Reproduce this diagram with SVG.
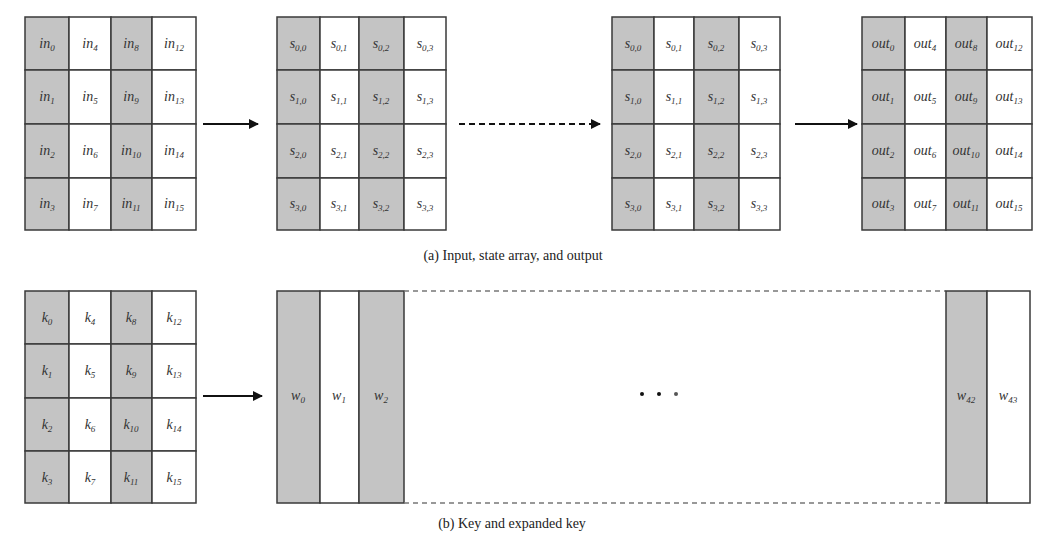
<svg xmlns="http://www.w3.org/2000/svg" width="1048" height="537" viewBox="0 0 1048 537">
<defs>
<style>
.g{fill:#c4c4c4;stroke:#3a3a3a;stroke-width:1.5}
.w{fill:#ffffff;stroke:#3a3a3a;stroke-width:1.5}
.t{font-family:"Liberation Serif","Times New Roman",serif;font-style:italic;font-size:14px;fill:#333;text-anchor:middle}
.s{font-size:9px}
.cap{font-family:"Liberation Serif","Times New Roman",serif;font-size:14px;fill:#222;text-anchor:middle}
.ln{stroke:#111;stroke-width:2;fill:none}
.dl{stroke:#777;stroke-width:1.5;stroke-dasharray:5,4;fill:none}
</style>
<marker id="ah" viewBox="0 0 10 10" refX="9" refY="5" markerWidth="5" markerHeight="5" orient="auto" markerUnits="strokeWidth">
<path d="M0,0 L10,5 L0,10 z" fill="#111"/>
</marker>
</defs>
<rect width="1048" height="537" fill="#fff"/>

<g id="input">
<rect class="g" x="25" y="17" width="44" height="53"/><rect class="w" x="69" y="17" width="42" height="53"/><rect class="g" x="111" y="17" width="41" height="53"/><rect class="w" x="152" y="17" width="44" height="53"/>
<rect class="g" x="25" y="70" width="44" height="54"/><rect class="w" x="69" y="70" width="42" height="54"/><rect class="g" x="111" y="70" width="41" height="54"/><rect class="w" x="152" y="70" width="44" height="54"/>
<rect class="g" x="25" y="124" width="44" height="54"/><rect class="w" x="69" y="124" width="42" height="54"/><rect class="g" x="111" y="124" width="41" height="54"/><rect class="w" x="152" y="124" width="44" height="54"/>
<rect class="g" x="25" y="178" width="44" height="52"/><rect class="w" x="69" y="178" width="42" height="52"/><rect class="g" x="111" y="178" width="41" height="52"/><rect class="w" x="152" y="178" width="44" height="52"/>
<text class="t" x="47" y="48">in<tspan class="s" dy="3">0</tspan></text>
<text class="t" x="90" y="48">in<tspan class="s" dy="3">4</tspan></text>
<text class="t" x="131" y="48">in<tspan class="s" dy="3">8</tspan></text>
<text class="t" x="174" y="48">in<tspan class="s" dy="3">12</tspan></text>
<text class="t" x="47" y="101">in<tspan class="s" dy="3">1</tspan></text>
<text class="t" x="90" y="101">in<tspan class="s" dy="3">5</tspan></text>
<text class="t" x="131" y="101">in<tspan class="s" dy="3">9</tspan></text>
<text class="t" x="174" y="101">in<tspan class="s" dy="3">13</tspan></text>
<text class="t" x="47" y="155">in<tspan class="s" dy="3">2</tspan></text>
<text class="t" x="90" y="155">in<tspan class="s" dy="3">6</tspan></text>
<text class="t" x="131" y="155">in<tspan class="s" dy="3">10</tspan></text>
<text class="t" x="174" y="155">in<tspan class="s" dy="3">14</tspan></text>
<text class="t" x="47" y="208">in<tspan class="s" dy="3">3</tspan></text>
<text class="t" x="90" y="208">in<tspan class="s" dy="3">7</tspan></text>
<text class="t" x="131" y="208">in<tspan class="s" dy="3">11</tspan></text>
<text class="t" x="174" y="208">in<tspan class="s" dy="3">15</tspan></text>
</g>

<g id="state1">
<rect class="g" x="277" y="17" width="43" height="53"/><rect class="w" x="320" y="17" width="39" height="53"/><rect class="g" x="359" y="17" width="45" height="53"/><rect class="w" x="404" y="17" width="42" height="53"/>
<rect class="g" x="277" y="70" width="43" height="54"/><rect class="w" x="320" y="70" width="39" height="54"/><rect class="g" x="359" y="70" width="45" height="54"/><rect class="w" x="404" y="70" width="42" height="54"/>
<rect class="g" x="277" y="124" width="43" height="54"/><rect class="w" x="320" y="124" width="39" height="54"/><rect class="g" x="359" y="124" width="45" height="54"/><rect class="w" x="404" y="124" width="42" height="54"/>
<rect class="g" x="277" y="178" width="43" height="52"/><rect class="w" x="320" y="178" width="39" height="52"/><rect class="g" x="359" y="178" width="45" height="52"/><rect class="w" x="404" y="178" width="42" height="52"/>
<text class="t" x="298" y="48">s<tspan class="s" dy="3">0,0</tspan></text>
<text class="t" x="339" y="48">s<tspan class="s" dy="3">0,1</tspan></text>
<text class="t" x="381" y="48">s<tspan class="s" dy="3">0,2</tspan></text>
<text class="t" x="425" y="48">s<tspan class="s" dy="3">0,3</tspan></text>
<text class="t" x="298" y="101">s<tspan class="s" dy="3">1,0</tspan></text>
<text class="t" x="339" y="101">s<tspan class="s" dy="3">1,1</tspan></text>
<text class="t" x="381" y="101">s<tspan class="s" dy="3">1,2</tspan></text>
<text class="t" x="425" y="101">s<tspan class="s" dy="3">1,3</tspan></text>
<text class="t" x="298" y="155">s<tspan class="s" dy="3">2,0</tspan></text>
<text class="t" x="339" y="155">s<tspan class="s" dy="3">2,1</tspan></text>
<text class="t" x="381" y="155">s<tspan class="s" dy="3">2,2</tspan></text>
<text class="t" x="425" y="155">s<tspan class="s" dy="3">2,3</tspan></text>
<text class="t" x="298" y="208">s<tspan class="s" dy="3">3,0</tspan></text>
<text class="t" x="339" y="208">s<tspan class="s" dy="3">3,1</tspan></text>
<text class="t" x="381" y="208">s<tspan class="s" dy="3">3,2</tspan></text>
<text class="t" x="425" y="208">s<tspan class="s" dy="3">3,3</tspan></text>
</g>

<g id="state2">
<rect class="g" x="612" y="17" width="42" height="53"/><rect class="w" x="654" y="17" width="40" height="53"/><rect class="g" x="694" y="17" width="45" height="53"/><rect class="w" x="739" y="17" width="41" height="53"/>
<rect class="g" x="612" y="70" width="42" height="54"/><rect class="w" x="654" y="70" width="40" height="54"/><rect class="g" x="694" y="70" width="45" height="54"/><rect class="w" x="739" y="70" width="41" height="54"/>
<rect class="g" x="612" y="124" width="42" height="54"/><rect class="w" x="654" y="124" width="40" height="54"/><rect class="g" x="694" y="124" width="45" height="54"/><rect class="w" x="739" y="124" width="41" height="54"/>
<rect class="g" x="612" y="178" width="42" height="52"/><rect class="w" x="654" y="178" width="40" height="52"/><rect class="g" x="694" y="178" width="45" height="52"/><rect class="w" x="739" y="178" width="41" height="52"/>
<text class="t" x="633" y="48">s<tspan class="s" dy="3">0,0</tspan></text>
<text class="t" x="674" y="48">s<tspan class="s" dy="3">0,1</tspan></text>
<text class="t" x="716" y="48">s<tspan class="s" dy="3">0,2</tspan></text>
<text class="t" x="759" y="48">s<tspan class="s" dy="3">0,3</tspan></text>
<text class="t" x="633" y="101">s<tspan class="s" dy="3">1,0</tspan></text>
<text class="t" x="674" y="101">s<tspan class="s" dy="3">1,1</tspan></text>
<text class="t" x="716" y="101">s<tspan class="s" dy="3">1,2</tspan></text>
<text class="t" x="759" y="101">s<tspan class="s" dy="3">1,3</tspan></text>
<text class="t" x="633" y="155">s<tspan class="s" dy="3">2,0</tspan></text>
<text class="t" x="674" y="155">s<tspan class="s" dy="3">2,1</tspan></text>
<text class="t" x="716" y="155">s<tspan class="s" dy="3">2,2</tspan></text>
<text class="t" x="759" y="155">s<tspan class="s" dy="3">2,3</tspan></text>
<text class="t" x="633" y="208">s<tspan class="s" dy="3">3,0</tspan></text>
<text class="t" x="674" y="208">s<tspan class="s" dy="3">3,1</tspan></text>
<text class="t" x="716" y="208">s<tspan class="s" dy="3">3,2</tspan></text>
<text class="t" x="759" y="208">s<tspan class="s" dy="3">3,3</tspan></text>
</g>

<g id="output">
<rect class="g" x="862" y="17" width="43" height="53"/><rect class="w" x="905" y="17" width="41" height="53"/><rect class="g" x="946" y="17" width="41" height="53"/><rect class="w" x="987" y="17" width="45" height="53"/>
<rect class="g" x="862" y="70" width="43" height="54"/><rect class="w" x="905" y="70" width="41" height="54"/><rect class="g" x="946" y="70" width="41" height="54"/><rect class="w" x="987" y="70" width="45" height="54"/>
<rect class="g" x="862" y="124" width="43" height="54"/><rect class="w" x="905" y="124" width="41" height="54"/><rect class="g" x="946" y="124" width="41" height="54"/><rect class="w" x="987" y="124" width="45" height="54"/>
<rect class="g" x="862" y="178" width="43" height="52"/><rect class="w" x="905" y="178" width="41" height="52"/><rect class="g" x="946" y="178" width="41" height="52"/><rect class="w" x="987" y="178" width="45" height="52"/>
<text class="t" x="883" y="48">out<tspan class="s" dy="3">0</tspan></text>
<text class="t" x="925" y="48">out<tspan class="s" dy="3">4</tspan></text>
<text class="t" x="966" y="48">out<tspan class="s" dy="3">8</tspan></text>
<text class="t" x="1009" y="48">out<tspan class="s" dy="3">12</tspan></text>
<text class="t" x="883" y="101">out<tspan class="s" dy="3">1</tspan></text>
<text class="t" x="925" y="101">out<tspan class="s" dy="3">5</tspan></text>
<text class="t" x="966" y="101">out<tspan class="s" dy="3">9</tspan></text>
<text class="t" x="1009" y="101">out<tspan class="s" dy="3">13</tspan></text>
<text class="t" x="883" y="155">out<tspan class="s" dy="3">2</tspan></text>
<text class="t" x="925" y="155">out<tspan class="s" dy="3">6</tspan></text>
<text class="t" x="966" y="155">out<tspan class="s" dy="3">10</tspan></text>
<text class="t" x="1009" y="155">out<tspan class="s" dy="3">14</tspan></text>
<text class="t" x="883" y="208">out<tspan class="s" dy="3">3</tspan></text>
<text class="t" x="925" y="208">out<tspan class="s" dy="3">7</tspan></text>
<text class="t" x="966" y="208">out<tspan class="s" dy="3">11</tspan></text>
<text class="t" x="1009" y="208">out<tspan class="s" dy="3">15</tspan></text>
</g>

<g id="key">
<rect class="g" x="25" y="291" width="44" height="53"/><rect class="w" x="69" y="291" width="42" height="53"/><rect class="g" x="111" y="291" width="41" height="53"/><rect class="w" x="152" y="291" width="44" height="53"/>
<rect class="g" x="25" y="344" width="44" height="54"/><rect class="w" x="69" y="344" width="42" height="54"/><rect class="g" x="111" y="344" width="41" height="54"/><rect class="w" x="152" y="344" width="44" height="54"/>
<rect class="g" x="25" y="398" width="44" height="53"/><rect class="w" x="69" y="398" width="42" height="53"/><rect class="g" x="111" y="398" width="41" height="53"/><rect class="w" x="152" y="398" width="44" height="53"/>
<rect class="g" x="25" y="451" width="44" height="52"/><rect class="w" x="69" y="451" width="42" height="52"/><rect class="g" x="111" y="451" width="41" height="52"/><rect class="w" x="152" y="451" width="44" height="52"/>
<text class="t" x="47" y="322">k<tspan class="s" dy="3">0</tspan></text>
<text class="t" x="90" y="322">k<tspan class="s" dy="3">4</tspan></text>
<text class="t" x="131" y="322">k<tspan class="s" dy="3">8</tspan></text>
<text class="t" x="174" y="322">k<tspan class="s" dy="3">12</tspan></text>
<text class="t" x="47" y="375">k<tspan class="s" dy="3">1</tspan></text>
<text class="t" x="90" y="375">k<tspan class="s" dy="3">5</tspan></text>
<text class="t" x="131" y="375">k<tspan class="s" dy="3">9</tspan></text>
<text class="t" x="174" y="375">k<tspan class="s" dy="3">13</tspan></text>
<text class="t" x="47" y="429">k<tspan class="s" dy="3">2</tspan></text>
<text class="t" x="90" y="429">k<tspan class="s" dy="3">6</tspan></text>
<text class="t" x="131" y="429">k<tspan class="s" dy="3">10</tspan></text>
<text class="t" x="174" y="429">k<tspan class="s" dy="3">14</tspan></text>
<text class="t" x="47" y="482">k<tspan class="s" dy="3">3</tspan></text>
<text class="t" x="90" y="482">k<tspan class="s" dy="3">7</tspan></text>
<text class="t" x="131" y="482">k<tspan class="s" dy="3">11</tspan></text>
<text class="t" x="174" y="482">k<tspan class="s" dy="3">15</tspan></text>
</g>

<g id="expanded-key">
<rect class="g" x="277" y="291" width="43" height="212"/>
<rect class="w" x="320" y="291" width="39" height="212"/>
<rect class="g" x="359" y="291" width="45" height="212"/>
<path class="dl" d="M404,291 H946 M404,503 H946"/>
<rect class="g" x="946" y="291" width="41" height="212"/>
<rect class="w" x="987" y="291" width="43" height="212"/>
<text class="t" x="298" y="400">w<tspan class="s" dy="3">0</tspan></text>
<text class="t" x="339" y="400">w<tspan class="s" dy="3">1</tspan></text>
<text class="t" x="381" y="400">w<tspan class="s" dy="3">2</tspan></text>
<text class="t" x="966" y="400">w<tspan class="s" dy="3">42</tspan></text>
<text class="t" x="1008" y="400">w<tspan class="s" dy="3">43</tspan></text>
<circle cx="642" cy="394" r="2" fill="#111"/>
<circle cx="659" cy="394" r="2" fill="#111"/>
<circle cx="676" cy="394" r="2" fill="#555"/>
</g>

<g id="connectors">
<line class="ln" x1="203" y1="124" x2="258" y2="124" marker-end="url(#ah)"/>
<line class="ln" x1="459" y1="124" x2="600" y2="124" stroke-dasharray="6,4" marker-end="url(#ah)"/>
<line class="ln" x1="795" y1="124" x2="857" y2="124" marker-end="url(#ah)"/>
<line class="ln" x1="203" y1="396" x2="262" y2="396" marker-end="url(#ah)"/>
</g>

<g id="captions">
<text class="cap" x="513" y="260">(a) Input, state array, and output</text>
<text class="cap" x="512" y="528">(b) Key and expanded key</text>
</g>
</svg>
